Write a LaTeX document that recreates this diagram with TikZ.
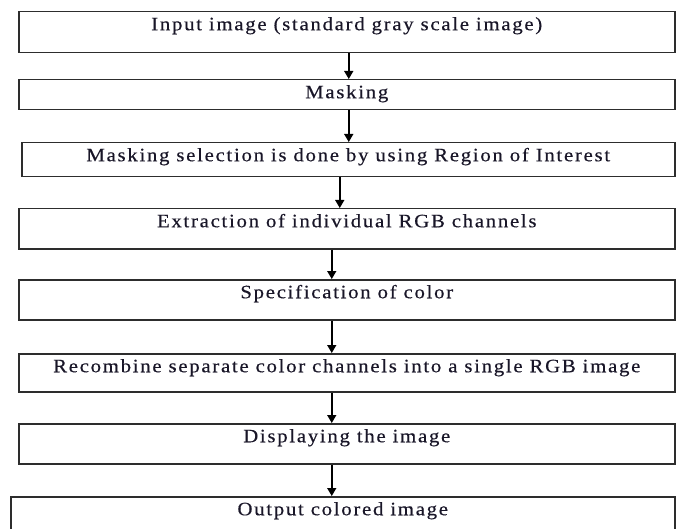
\documentclass[tikz,border=0pt]{standalone}
\usepackage{fontspec}
\setmainfont{Liberation Serif}[FakeStretch=1.1,LetterSpace=9,FakeBold=0.4]
\usetikzlibrary{arrows.meta}
\definecolor{txt}{RGB}{25,22,40}
\definecolor{edge}{RGB}{45,45,45}
\tikzset{
  stepbox/.style={draw=edge, line width=1.5bp, inner sep=0pt, anchor=north west,
    text height=18.5bp, text=txt, font=\fontsize{19}{22}\selectfont, align=center},
  arr/.style={draw=black, line width=1.5bp, -{Triangle[width=9bp,length=8bp]}}
}
\begin{document}
\begin{tikzpicture}[x=1bp,y=-1bp]
\useasboundingbox (0,0) rectangle (681,529);
\clip (0,0) rectangle (681,529);
\node[stepbox, minimum width=656bp, text depth=22.5bp] (b1) at (18,11) {Input image (standard gray scale image)};
\node[stepbox, minimum width=656bp, text depth=11.5bp] (b2) at (18,79) {Masking};
\node[stepbox, minimum width=653bp, text depth=15.5bp] (b3) at (21,142) {Masking selection is done by using Region of Interest};
\node[stepbox, minimum width=656bp, text depth=21.5bp] (b4) at (18,208) {Extraction of individual RGB channels};
\node[stepbox, minimum width=656bp, text depth=21.5bp] (b5) at (18,279) {Specification of color};
\node[stepbox, minimum width=656bp, text depth=19.5bp] (b6) at (18,353) {Recombine separate color channels into a single RGB image};
\node[stepbox, minimum width=656bp, text depth=21.5bp] (b7) at (18,423) {Displaying the image};
\node[stepbox, minimum width=664bp, text depth=44bp] (b8) at (10,496) {Output colored image};
\draw[arr] ([xshift=2bp]b1.south) -- ([xshift=2bp]b1.south |- b2.north);
\draw[arr] ([xshift=2bp]b2.south) -- ([xshift=2bp]b2.south |- b3.north);
\draw[arr] ([xshift=-8.5bp]b3.south) -- ([xshift=-8.5bp]b3.south |- b4.north);
\draw[arr] ([xshift=-15bp]b4.south) -- ([xshift=-15bp]b4.south |- b5.north);
\draw[arr] ([xshift=-15bp]b5.south) -- ([xshift=-15bp]b5.south |- b6.north);
\draw[arr] ([xshift=-15bp]b6.south) -- ([xshift=-15bp]b6.south |- b7.north);
\draw[arr] ([xshift=-15bp]b7.south) -- ([xshift=-15bp]b7.south |- b8.north);
\end{tikzpicture}
\end{document}
